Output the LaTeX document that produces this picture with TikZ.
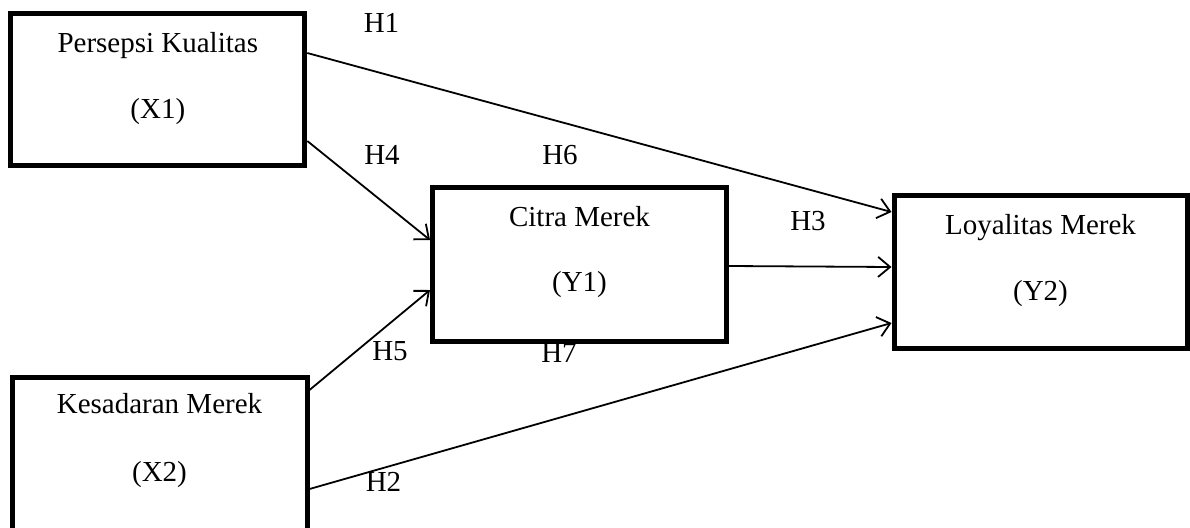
\documentclass[tikz,border=0pt]{standalone}
\usepackage{fontspec}
\setmainfont{Liberation Serif}
\usetikzlibrary{arrows.meta}
\begin{document}
\begin{tikzpicture}[x=1pt,y=-1pt,
  varbox/.style={draw, line width=5pt, outer sep=2.5pt, inner sep=0pt,
    minimum width=294pt, minimum height=152pt},
  boxtext/.style={anchor=base, inner sep=0pt, font=\fontsize{29}{34}\selectfont},
  hyp/.style={anchor=base, inner sep=0pt, font=\fontsize{29}{34}\selectfont},
  path/.style={line width=1.8pt,
    -{Straight Barb[length=12pt,width=20pt,line width=1.8pt]}}]
\useasboundingbox (0,0) rectangle (1190,527);
\clip (0,0) rectangle (1190,527);

% hypothesis labels (drawn first so box borders lie over them)
\node[hyp] (h1) at (381.5,32.7) {H1};
\node[hyp] (h4) at (382,164) {H4};
\node[hyp] (h6) at (560,164) {H6};
\node[hyp] (h3) at (808,230) {H3};
\node[hyp] (h5) at (390,360.5) {H5};
\node[hyp] (h7) at (559,362) {H7};
\node[hyp] (h2) at (383.5,491.5) {H2};

% construct boxes
\node[varbox] (x1) at (157.8,89.8) {};
\node[varbox, minimum height=154pt] (y1) at (579.5,264) {};
\node[varbox, minimum width=293pt, minimum height=153pt] (y2) at (1040.5,271.5) {};
\node[varbox, minimum width=295pt, minimum height=156pt] (x2) at (159.5,455) {};

% box captions
\node[boxtext] (x1a) at (157.8,52.5) {Persepsi Kualitas};
\node[boxtext] (x1b) at (157.8,118) {(X1)};
\node[boxtext] (y1a) at (579.5,226) {Citra Merek};
\node[boxtext] (y1b) at (579.5,291.7) {(Y1)};
\node[boxtext] (y2a) at (1040.5,234) {Loyalitas Merek};
\node[boxtext] (y2b) at (1040.5,300) {(Y2)};
\node[boxtext] (x2a) at (159.5,413.3) {Kesadaran Merek};
\node[boxtext] (x2b) at (159.5,481.7) {(X2)};

% paths between constructs
\draw[path] ([yshift=36.8pt]x1.east) -- ([yshift=59.5pt]y2.west);
\draw[path] ([yshift=-51.2pt]x1.east) -- ([yshift=24pt]y1.west);
\draw[path] ([yshift=-2pt]y1.east) -- ([yshift=4.5pt]y2.west);
\draw[path] ([yshift=65pt]x2.east) -- ([yshift=-26pt]y1.west);
\draw[path] ([yshift=-34pt]x2.east) -- ([yshift=-51.5pt]y2.west);
\end{tikzpicture}
\end{document}
